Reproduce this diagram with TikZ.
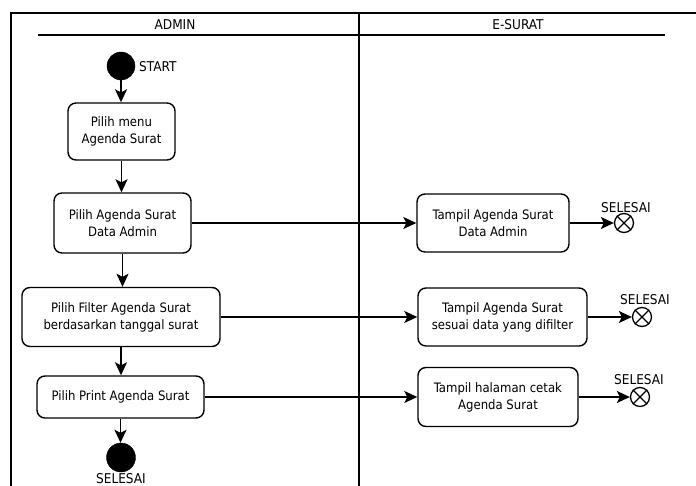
\documentclass[tikz,border=0pt]{standalone}
\usepackage{fontspec}
\setmainfont{DejaVu Sans Condensed}
\usetikzlibrary{arrows.meta}
\begin{document}
\begin{tikzpicture}[x=1pt,y=-1pt,
  lane/.style={line width=1.3pt},
  act/.style={draw, line width=1.4pt, rounded corners=8pt, align=center,
    font=\fontsize{13}{17}\selectfont, inner sep=0pt},
  flow/.style={line width=1.4pt, -{Stealth[length=13pt,width=12pt,inset=3pt]}},
  plain/.style={line width=1.4pt},
  dot/.style={circle, fill=black, draw=black, minimum size=28pt, inner sep=0pt},
  fin/.style={circle, draw, line width=1.3pt, minimum size=19pt, inner sep=0pt},
  lbl/.style={font=\fontsize{13.5}{14}\selectfont, inner sep=0pt},
  head/.style={font=\fontsize{13.5}{14}\selectfont, inner sep=0pt}]
\useasboundingbox (0,0) rectangle (696,486);

% swimlane frame
\coordinate (tl) at (11,13);
\coordinate (tr) at (696,13);
\coordinate (bl) at (11,490);
\coordinate (mt) at (359,13);
\coordinate (mb) at (359,490);
\coordinate (hl) at (38,35);
\coordinate (hr) at (665,35);
\draw[lane] (bl) -- (tl) -- (tr);
\draw[lane] (mt) -- (mb);
\draw[lane] (hl) -- (hr);
\node[head] (hadmin) at (175,25) {ADMIN};
\node[head] (hesurat) at (518,25) {E-SURAT};

% admin lane
\node[dot] (start) at (121,66) {};
\node[lbl, anchor=west] (startl) at (139,67) {START};
\node[act, minimum width=107pt, minimum height=57pt] (a1) at (121.5,131.5)
  {Pilih menu\\Agenda Surat};
\node[act, minimum width=137pt, minimum height=60pt] (a2) at (122.5,223)
  {Pilih Agenda Surat\\Data Admin};
\node[act, minimum width=198pt, minimum height=59pt] (a3) at (121,317)
  {Pilih Filter Agenda Surat\\berdasarkan tanggal surat};
\node[act, minimum width=167pt, minimum height=42pt] (a4) at (120.5,397)
  {Pilih Print Agenda Surat};
\node[dot, minimum size=29pt] (end) at (121,457.5) {};
\node[lbl] (endl) at (121,479) {SELESAI};

% e-surat lane
\node[act, minimum width=152pt, minimum height=58pt] (t1) at (493,223)
  {Tampil Agenda Surat\\Data Admin};
\node[act, minimum width=169pt, minimum height=58pt] (t2) at (502.5,317)
  {Tampil Agenda Surat\\sesuai data yang difilter};
\node[act, minimum width=160pt, minimum height=59pt] (t3) at (498,397)
  {Tampil halaman cetak\\Agenda Surat};

\node[fin] (f1) at (624,223) {};
\node[fin] (f2) at (642,317) {};
\node[fin] (f3) at (640,397) {};
\foreach \f in {f1,f2,f3}{
  \draw[plain, line width=1.3pt] (\f.north west) -- (\f.south east);
  \draw[plain, line width=1.3pt] (\f.north east) -- (\f.south west);
}
\node[lbl] (f1l) at (626,208) {SELESAI};
\node[lbl] (f2l) at (645,300) {SELESAI};
\node[lbl] (f3l) at (639,380) {SELESAI};

% control flow
\draw[flow] (start.south) -- (start.south |- a1.north);
\draw[flow] (a1.south) -- (a1.south |- a2.north);
\draw[flow] (a2.south) -- (a2.south |- a3.north);
\draw[flow] (a3.south) -- (a3.south |- a4.north);
\draw[flow] (a4.south) -- (a4.south |- end.north);
\draw[flow] (a2.east) -- (t1.west);
\draw[flow] (a3.east) -- (t2.west);
\draw[flow] (a4.east) -- (t3.west);
\draw[flow] (t1.east) -- (f1.west);
\draw[flow] (t2.east) -- (f2.west);
\draw[flow] (t3.east) -- (f3.west);
\end{tikzpicture}
\end{document}
